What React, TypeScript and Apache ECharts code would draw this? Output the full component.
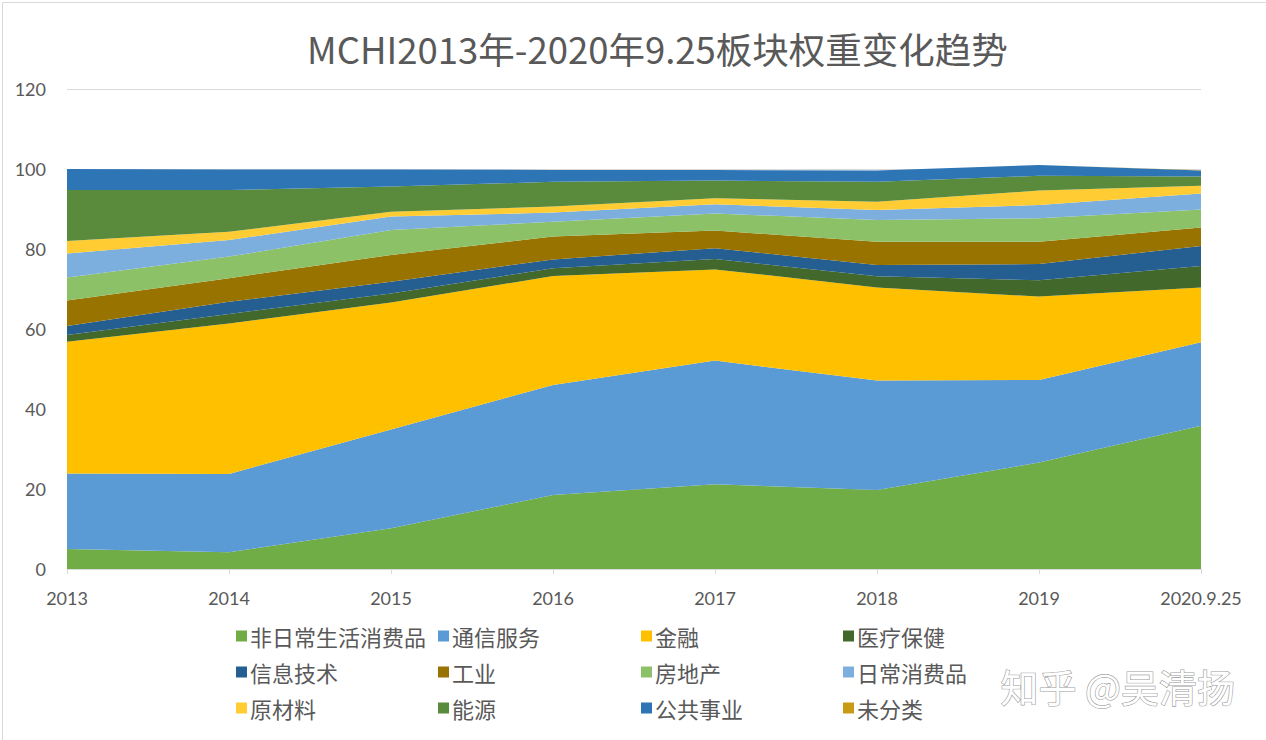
import React, { useEffect, useRef } from "react";
import * as echarts from "echarts";

const categories = ["2013", "2014", "2015", "2016", "2017", "2018", "2019", "2020.9.25"];
const yTicks = { min: 0, max: 120, interval: 20 };

const seriesNames = [
  "非日常生活消费品", "通信服务", "金融", "医疗保健",
  "信息技术", "工业", "房地产", "日常消费品",
  "原材料", "能源", "公共事业", "未分类",
];

const consumerDiscretionary = [5.0, 4.2, 10.2, 18.5, 21.2, 19.75, 26.6, 35.8];
const communication = [18.9, 19.55, 24.7, 27.5, 30.9, 27.35, 20.65, 20.9];
const financials = [32.9, 37.65, 31.7, 27.25, 22.8, 23.3, 20.85, 13.7];
const healthCare = [1.7, 2.35, 2.3, 1.95, 2.6, 2.8, 4.1, 5.35];
const infoTech = [2.25, 3.05, 2.9, 2.2, 2.7, 2.8, 4.05, 5.0];
const industrials = [6.35, 5.9, 6.7, 5.7, 4.4, 5.8, 5.55, 4.65];
const realEstate = [5.8, 5.4, 6.25, 3.7, 4.3, 5.45, 5.9, 4.5];
const consumerStaples = [6.0, 4.15, 3.35, 2.3, 2.3, 2.5, 3.3, 4.0];
const materials = [3.1, 2.05, 1.2, 1.5, 1.5, 2.05, 3.6, 1.9];
const energy = [12.75, 10.45, 6.3, 6.2, 4.4, 5.0, 3.7, 2.3];
const utilities = [5.25, 5.15, 4.3, 2.95, 2.65, 2.8, 2.7, 1.5];
const unclassified = [0, 0, 0, 0, 0, 0, 0, 0.1];

const seriesValues = [
  consumerDiscretionary, communication, financials, healthCare,
  infoTech, industrials, realEstate, consumerStaples,
  materials, energy, utilities, unclassified,
];

const colors = [
  "#70AD47", "#5B9BD5", "#FFC000", "#43682B",
  "#255E91", "#997300", "#8CC168", "#7CAFDD",
  "#FFCD33", "#5A8B3C", "#2E75B6", "#C99A14",
];

const FONT = "Lato, 'Noto Sans CJK SC', sans-serif";
const CJK = "'Noto Sans CJK SC', Lato, sans-serif";

export default function App() {
  const ref = useRef<HTMLDivElement>(null);
  useEffect(() => {
    if (!ref.current) return;
    const chart = echarts.init(ref.current, undefined, { renderer: "svg" });
    const legendCols = [0, 1, 2, 3].map((c) => [c, c + 4, c + 8].map((i) => seriesNames[i]));
    const legendLefts = [231, 433, 636, 838];
    chart.setOption({
      animation: false,
      backgroundColor: "#ffffff",
      color: colors,
      title: {
        text: "MCHI2013年-2020年9.25板块权重变化趋势",
        left: 302,
        top: 25,
        textStyle: { fontFamily: CJK, fontSize: 36.5, fontWeight: "normal", color: "#595959" },
      },
      grid: { left: 67, right: 65, top: 89, bottom: 171, containLabel: false },
      legend: legendCols.map((names, c) => ({
        data: names,
        orient: "vertical",
        left: legendLefts[c],
        top: 620,
        itemWidth: 11,
        itemHeight: 11,
        itemGap: 14,
        icon: "rect",
        selectedMode: false,
        textStyle: { fontFamily: CJK, fontSize: 22, color: "#595959", padding: [0, 0, 0, -2] },
      })),
      xAxis: {
        type: "category",
        data: categories,
        boundaryGap: false,
        axisLine: { lineStyle: { color: "#D9D9D9", width: 1 } },
        axisTick: { show: true, length: 5, lineStyle: { color: "#D9D9D9" } },
        axisLabel: { color: "#595959", fontSize: 18, fontFamily: FONT, margin: 20 },
      },
      yAxis: {
        type: "value",
        min: yTicks.min,
        max: yTicks.max,
        interval: yTicks.interval,
        axisLine: { show: false },
        axisTick: { show: false },
        splitLine: { lineStyle: { color: "#D9D9D9", width: 1 } },
        axisLabel: { color: "#595959", fontSize: 18, fontFamily: FONT, margin: 21 },
      },
      series: seriesNames.map((name, i) => ({
        name,
        type: "line",
        stack: "total",
        data: seriesValues[i],
        symbol: "none",
        lineStyle: { width: 0 },
        areaStyle: { color: colors[i], opacity: 1 },
        itemStyle: { color: colors[i] },
        z: 2,
      })),
      graphic: [
        {
          type: "rect",
          left: 0,
          top: 0,
          shape: { x: 0.5, y: 0.5, width: 1265, height: 739 },
          style: { fill: "none", stroke: "#D9D9D9", lineWidth: 1 },
          silent: true,
        },
        {
          type: "text",
          left: 1000,
          top: 666,
          style: {
            text: "知乎 @吴清扬",
            font: "38px 'Noto Sans CJK SC'",
            fill: "#ffffff",
            stroke: "#9a9a9a",
            lineWidth: 1.2,
          },
          silent: true,
        },
      ],
    });
    return () => chart.dispose();
  }, []);
  return (
    <div
      ref={ref}
      style={{ position: "absolute", left: 0, top: 0, width: 1266, height: 740 }}
    />
  );
}
